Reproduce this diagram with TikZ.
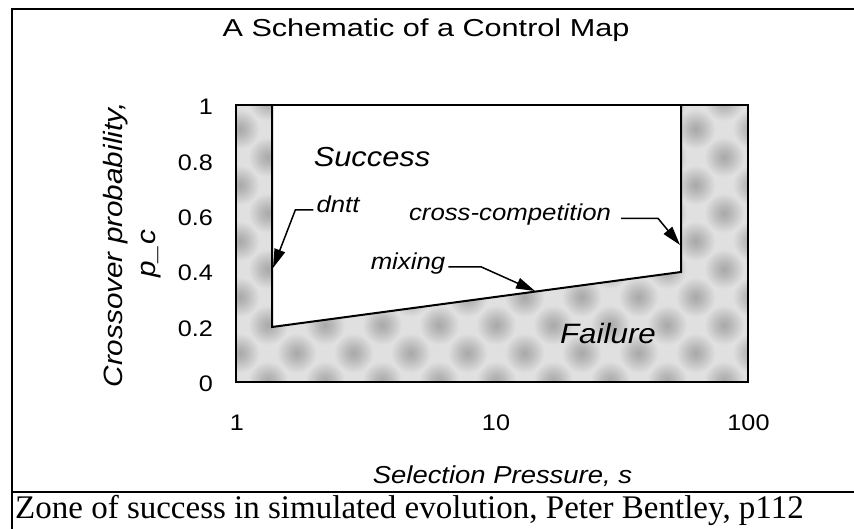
\documentclass[tikz,border=0pt]{standalone}
\usepackage{fontspec}
\setmainfont{Liberation Serif}
\setsansfont{Liberation Sans}[FakeStretch=1.12]
\newfontfamily\titlefont{Liberation Sans}[FakeStretch=1.25]
\usetikzlibrary{arrows.meta}
\definecolor{failbase}{gray}{0.88}
\definecolor{failblob}{gray}{0.66}
\pgfdeclareradialshading{blob}{\pgfpoint{0bp}{0bp}}{color(0bp)=(failblob); color(9bp)=(failblob!70!failbase); color(25bp)=(failbase); color(50bp)=(failbase)}

\begin{document}
\begin{tikzpicture}[x=1pt, y=-1pt, line join=miter,
  ticklab/.style={inner sep=0pt, font=\sffamily\fontsize{22.5}{27}\selectfont},
  lbl/.style={inner sep=3pt, font=\sffamily\itshape\fontsize{23}{28}\selectfont},
  zonelab/.style={inner sep=0pt, anchor=base, font=\sffamily\itshape\fontsize{27.5}{33}\selectfont},
  ptr/.style={line width=1.5pt, -{Triangle[length=19pt,width=11pt]}}]

  %% ════ 外框 ════
  \draw[line width=2.5pt] (12,529) -- (12,9) -- (854,9);
  \draw[line width=2.5pt] (12,492) -- (854,492);

  %% ════ 标题 ════
  \node[anchor=base, inner sep=0pt, font=\titlefont\fontsize{24.5}{30}\selectfont] (title) at (426,37) {A Schematic of a Control Map};

  %% ════ 失败区（灰色纹理）════
  \begin{scope}
    \clip (236,105) rectangle (748,382);
    \fill[failbase] (236,105) rectangle (748,382);
    \foreach \row in {-1,...,9} {
      \foreach \col in {-1,...,9} {
        \shade[shading=blob] ({239.5 + 57*\col + 28.5*mod(\row,2)}, {353 - 28*\row}) circle (20);
      }
    }
  \end{scope}

  %% ════ 成功区 ════
  \coordinate (tl) at (272,105);
  \coordinate (bl) at (272,327);
  \coordinate (br) at (681,272);
  \coordinate (tr) at (681,105);
  \fill[white] (tl) -- (bl) -- (br) -- (tr) -- cycle;
  \draw[line width=2pt] (tl) -- (bl) -- (br) -- (tr);
  \draw[line width=1.5pt] (236,105) rectangle (748,382);

  %% ════ 区域标签 ════
  \node[zonelab] (success) at (372,167) {Success};
  \node[zonelab, font=\sffamily\itshape\fontsize{28}{34}\selectfont] (failure) at (608,343) {Failure};

  %% ════ 箭头标注 ════
  \node[lbl, anchor=mid] (dntt) at (338,210) {dntt};
  \node[lbl, anchor=mid] (cross) at (510,218.5) {cross-competition};
  \node[lbl, anchor=mid] (mixing) at (408,267) {mixing};
  \coordinate (dnttTip) at (273,268);
  \coordinate (crossTip) at (680,245);
  \coordinate (mixTip) at (535,291);
  \draw[ptr] (dntt.mid west) -- ++(-18,0) -- (dnttTip);
  \draw[ptr] ([xshift=7pt]cross.mid east) -- ++(37,0) -- (crossTip);
  \draw[ptr] (mixing.mid east) -- ++(33,0) -- (mixTip);

  %% ════ 坐标轴刻度 ════
  \foreach \v/\y in {0/384, 0.2/328.6, 0.4/273.2, 0.6/217.8, 0.8/162.4, 1/107}
    \node[ticklab, anchor=east] at (213,\y) {\v};
  \node[ticklab] (s1) at (237,423) {1};
  \node[ticklab] (s10) at (496,423) {10};
  \node[ticklab] (s100) at (748.5,423) {100};

  %% ════ 坐标轴标题 ════
  \node[anchor=base, inner sep=0pt, font=\sffamily\itshape\fontsize{24.5}{30}\selectfont] (xlab) at (502.5,483) {Selection Pressure, s};
  \node[anchor=base, rotate=90, inner sep=0pt, font=\sffamily\itshape\fontsize{26.5}{32}\selectfont] (ylab) at (122,245) {Crossover probability,};
  \node[anchor=base, rotate=90, inner sep=0pt, font=\sffamily\itshape\fontsize{26.5}{32}\selectfont] (ylabp) at (155,254) {p\_c};

  %% ════ 图注 ════
  \node[anchor=base west, inner sep=0pt, font=\rmfamily\fontsize{33}{39}\selectfont] (caption) at (15,518) {Zone of success in simulated evolution, Peter Bentley, p112};

  % 钉死画布
  \pgfresetboundingbox
  \path[use as bounding box] (0,0) rectangle (854,529);
\end{tikzpicture}
\end{document}
